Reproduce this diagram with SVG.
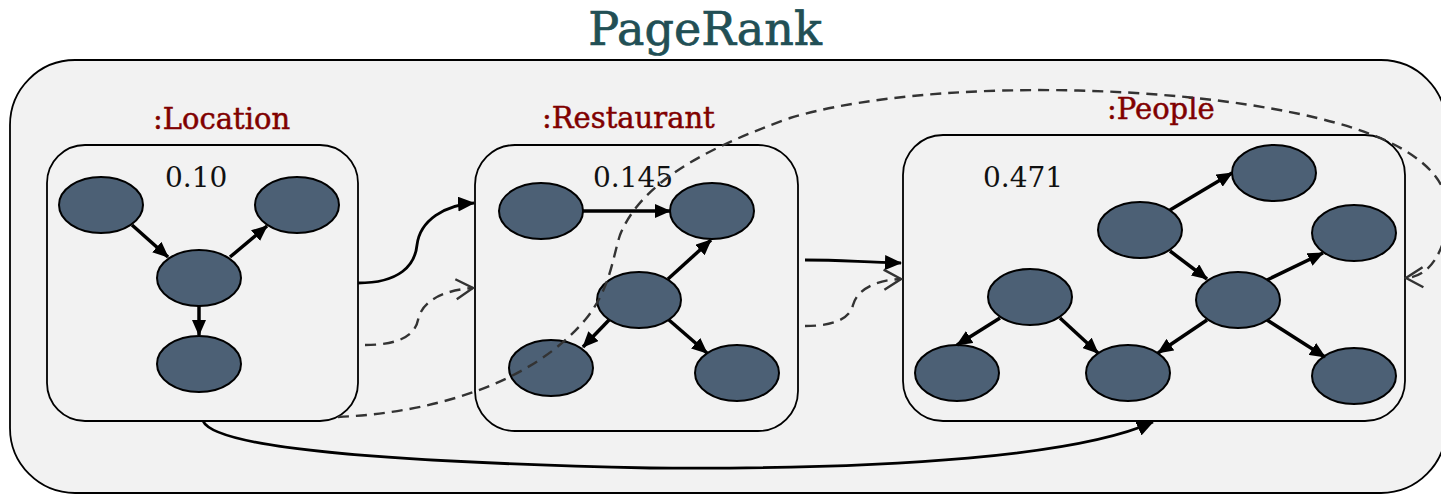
<svg xmlns="http://www.w3.org/2000/svg" width="1441" height="494" viewBox="0 0 1441 494">
<style>
.outer{fill:#f2f2f2;stroke:#000;stroke-width:1.8}
.box{fill:#f2f2f2;stroke:#000;stroke-width:1.8}
.nd{fill:#4c6075;stroke:#000;stroke-width:2}
.e{stroke:#000;stroke-width:3.5;fill:none;marker-end:url(#arr)}
.c{stroke:#000;stroke-width:2.8;fill:none;marker-end:url(#arrB)}
.d{stroke:#333;stroke-width:2.4;fill:none;stroke-dasharray:11,7;marker-end:url(#open)}
.title{font-family:"DejaVu Serif",serif;font-size:46px;fill:#214f55;stroke:#214f55;stroke-width:0.7}
.lbl{font-family:"DejaVu Serif",serif;font-size:29px;fill:#800000;stroke:#800000;stroke-width:0.5}
.num{font-family:"DejaVu Serif",serif;font-size:28px;fill:#111}
</style>
<defs>
<marker id="arr" viewBox="0 0 16 14" refX="15" refY="7" markerWidth="16" markerHeight="14" markerUnits="userSpaceOnUse" orient="auto">
<path d="M0,0 L16,7 L0,14 z" fill="#000"/>
</marker>
<marker id="arrB" viewBox="0 0 17 15" refX="16" refY="7.5" markerWidth="17" markerHeight="15" markerUnits="userSpaceOnUse" orient="auto">
<path d="M0,0 L17,7.5 L0,15 z" fill="#000"/>
</marker>
<marker id="open" viewBox="0 0 20 24" refX="18" refY="12" markerWidth="20" markerHeight="24" markerUnits="userSpaceOnUse" orient="auto">
<path d="M1,2 L18,12 L1,22" fill="none" stroke="#333" stroke-width="2.4" stroke-dasharray="none"/>
</marker>
</defs>
<text class="title" x="705" y="45" text-anchor="middle">PageRank</text>
<g id="pagerank">
<rect class="outer" x="10" y="60" width="1436" height="433" rx="65" ry="65"/>
</g>
<g id="location">
<rect class="box" x="47" y="145" width="311" height="276" rx="38" ry="38"/>
<text class="lbl" x="153" y="129">:Location</text>
<text class="num" x="165" y="187">0.10</text>
<ellipse class="nd" cx="101" cy="205" rx="42" ry="28"/>
<ellipse class="nd" cx="297" cy="205" rx="42" ry="28"/>
<ellipse class="nd" cx="199" cy="278" rx="42" ry="28"/>
<ellipse class="nd" cx="199" cy="364" rx="42" ry="28"/>
<path class="e" d="M132,225 L168,257"/>
<path class="e" d="M230,257 L267,226"/>
<path class="e" d="M199,306 L199,335"/>
</g>
<g id="restaurant">
<rect class="box" x="475" y="145" width="323" height="286" rx="40" ry="40"/>
<text class="lbl" x="542" y="128">:Restaurant</text>
<text class="num" x="593" y="187">0.145</text>
<ellipse class="nd" cx="541" cy="211" rx="42" ry="28"/>
<ellipse class="nd" cx="712" cy="211" rx="42" ry="28"/>
<ellipse class="nd" cx="639" cy="300" rx="42" ry="28"/>
<ellipse class="nd" cx="551" cy="368" rx="42" ry="28"/>
<ellipse class="nd" cx="737" cy="373" rx="42" ry="28"/>
<path class="e" d="M583,211 L670,211"/>
<path class="e" d="M668,279 L711,240"/>
<path class="e" d="M609,320 L583,347"/>
<path class="e" d="M669,320 L707,353"/>
</g>
<g id="people">
<rect class="box" x="903" y="135" width="502" height="286" rx="40" ry="40"/>
<text class="lbl" x="1107" y="119">:People</text>
<text class="num" x="983" y="187">0.471</text>
<ellipse class="nd" cx="1274" cy="173" rx="42" ry="28"/>
<ellipse class="nd" cx="1140" cy="230" rx="42" ry="28"/>
<ellipse class="nd" cx="1354" cy="233" rx="42" ry="28"/>
<ellipse class="nd" cx="1238" cy="300" rx="42" ry="28"/>
<ellipse class="nd" cx="1030" cy="297" rx="42" ry="28"/>
<ellipse class="nd" cx="957" cy="373" rx="42" ry="28"/>
<ellipse class="nd" cx="1128" cy="373" rx="42" ry="28"/>
<ellipse class="nd" cx="1354" cy="376" rx="42" ry="28"/>
<path class="e" d="M1170,210 L1232,173"/>
<path class="e" d="M1170,251 L1207,279"/>
<path class="e" d="M1267,280 L1323,253"/>
<path class="e" d="M1207,320 L1158,353"/>
<path class="e" d="M1267,320 L1325,357"/>
<path class="e" d="M1000,318 L957,345"/>
<path class="e" d="M1060,318 L1098,353"/>
</g>
<g id="connectors">
<path class="c" d="M358,283 C400,283 415,265 417,245 C420,220 445,205 474,203"/>
<path class="d" d="M365,345 C400,345 415,335 418,320 C422,300 445,290 473,288"/>
<path class="c" d="M805,260 C840,260 860,262 901,263"/>
<path class="d" d="M805,326 C835,326 850,318 853,305 C857,290 875,280 901,279"/>
<path class="c" d="M203,421 C215,448 380,462 650,468 C900,470 1080,455 1153,422"/>
<path class="d" d="M338,417 C430,413 530,385 585,320 C610,290 612,260 620,235 C640,185 700,150 790,118 C900,85 1100,82 1250,105 C1380,125 1450,160 1448,215 C1446,250 1430,277 1406,278"/>
</g>
</svg>
